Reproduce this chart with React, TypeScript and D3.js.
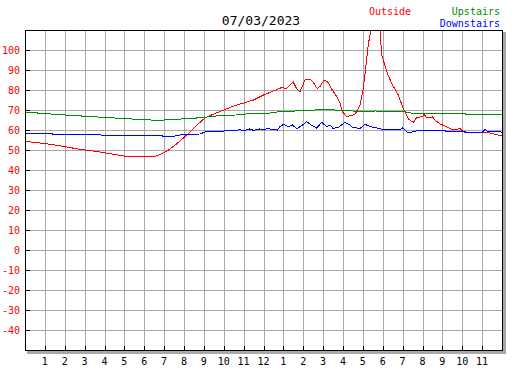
import React from 'react';
import * as d3 from 'd3';

const title = '07/03/2023';
const xTickHours = [1, 2, 3, 4, 5, 6, 7, 8, 9, 10, 11, 12, 13, 14, 15, 16, 17, 18, 19, 20, 21, 22, 23];
const xTickLabels = ['1', '2', '3', '4', '5', '6', '7', '8', '9', '10', '11', '12', '1', '2', '3', '4', '5', '6', '7', '8', '9', '10', '11'];
const yTicks = [100, 90, 80, 70, 60, 50, 40, 30, 20, 10, 0, -10, -20, -30, -40];

const outside: [number, number][] = [
  [0, 54.3], [0.5, 53.8], [1, 53.2], [1.5, 52.5], [2, 51.7], [2.5, 50.8], [3, 50], [3.5, 49.4], [4, 48.6],
  [4.5, 47.8], [5, 47], [5.5, 47], [6, 47], [6.6, 47], [6.8, 47.8], [7.1, 49.2], [7.5, 52], [7.8, 54.5],
  [8.2, 58], [8.6, 62], [9.05, 66], [9.5, 68], [10, 70], [10.5, 72], [11, 73.5], [11.5, 75], [12, 77.5],
  [12.5, 79.5], [12.9, 81.2], [13.17, 80.8], [13.5, 84], [13.67, 80.5], [13.84, 79.2], [14.09, 85],
  [14.34, 85.5], [14.5, 83.8], [14.7, 80.8], [14.84, 81.7], [15.05, 85], [15.26, 83.8], [15.43, 80.5],
  [15.68, 76.7], [15.85, 73.5], [15.97, 69], [16.19, 66.7], [16.6, 67.8], [16.86, 72.5], [17.02, 80.8],
  [17.14, 90.8], [17.27, 102.5], [17.4, 110], [17.6, 122], [17.75, 118], [17.86, 110], [17.95, 97.5],
  [18.2, 89.2], [18.45, 83.3], [18.78, 77.5], [19.03, 70.8], [19.29, 65.5], [19.54, 63.8], [19.7, 66.2],
  [19.99, 66.7], [20.09, 67.8], [20.2, 66.2], [20.5, 66.5], [20.63, 65], [20.88, 63], [21.13, 62],
  [21.55, 60], [21.88, 60.7], [22.1, 59], [23.2, 59], [23.5, 58.3], [24, 57],
];

const upstairs: [number, number][] = [
  [0, 69], [1, 68.2], [2, 67.5], [3, 66.9], [4, 66.3], [5, 65.7], [6, 65.2], [6.7, 64.8], [7.3, 65.2],
  [8.4, 65.8], [9.1, 66.4], [9.6, 67], [10.6, 67.5], [11.1, 68], [12.2, 68.3], [12.8, 69.2], [13.6, 69.5],
  [14.1, 69.8], [15.1, 70.2], [16.1, 69.8], [16.5, 69.5], [17.1, 69.2], [17.6, 69.5], [19.1, 69.2],
  [19.5, 68.3], [22.1, 68.3], [22.2, 67.8], [24, 67.8],
];

const downstairs: [number, number][] = [
  [0, 58.3], [1.35, 58.3], [1.4, 57.8], [3.8, 57.8], [3.85, 57.3], [6.87, 57.3], [6.95, 56.7], [7.5, 56.7],
  [7.6, 57.3], [8.14, 57.8], [8.8, 58], [9.06, 59], [9.9, 59.3], [10.3, 60], [10.5, 59.5], [10.8, 60.2],
  [11.0, 59.7], [11.3, 60.5], [11.5, 59.8], [11.8, 60.5], [12, 60.2], [12.23, 60.7], [12.5, 60.2], [12.7, 60],
  [12.83, 61.7], [13.0, 62.8], [13.25, 61.7], [13.45, 62.5], [13.67, 60.7], [13.9, 62], [14.17, 64.2],
  [14.4, 62.5], [14.67, 61], [14.93, 63.8], [15.18, 61.7], [15.35, 62.5], [15.51, 60.7], [15.8, 61.5],
  [16.1, 63.8], [16.35, 62.5], [16.5, 61.2], [16.86, 60.8], [17.11, 62.8], [17.36, 61.7], [17.78, 60.8],
  [18.03, 60.2], [18.87, 60.2], [19.0, 61], [19.29, 58.5], [19.54, 59.2], [19.87, 60], [21.1, 60],
  [21.2, 59.2], [22.14, 59.2], [22.2, 58.8], [23.0, 58.8], [23.15, 60.3], [23.3, 59.2], [23.9, 59.2], [24, 58.8],
];

const seriesNames = ['Outside', 'Upstairs', 'Downstairs'];
const seriesColors = ['#ff0000', '#008c00', '#0000ff'];

const W = 527;
const H = 370;
const L = 25;
const R = 502;
const T = 30;
const B = 350;
const FONT = "'DejaVu Sans Mono', monospace";

export default function App() {
  const x = d3.scaleLinear().domain([0, 24]).range([L, R]);
  const y = d3.scaleLinear().domain([-50, 110]).range([B, T]);
  const px = (v: number) => Math.round(v) + 0.5;
  const line = d3
    .line<[number, number]>()
    .x((d) => x(d[0]))
    .y((d) => y(d[1]));
  const series = [outside, upstairs, downstairs];

  return (
    <div style={{ position: 'absolute', left: 0, top: 0 }}>
      <svg width={W} height={H} style={{ display: 'block', background: '#fff' }}>
        <defs>
          <clipPath id="plotclip">
            <rect x={L} y={T} width={R - L + 1} height={B - T} />
          </clipPath>
        </defs>
        {/* shadow */}
        <rect x={L + 2} y={T + 2} width={R - L + 2} height={B - T + 2} fill="#a8a8a8" />
        <rect x={L} y={T} width={R - L} height={B - T} fill="#fff" />
        {/* grid */}
        <g shapeRendering="crispEdges" stroke="#a8a8a8" strokeWidth={1}>
          {xTickHours.map((h) => (
            <line key={'gx' + h} x1={px(x(h))} x2={px(x(h))} y1={T} y2={B} />
          ))}
          {yTicks.map((v) => (
            <line key={'gy' + v} x1={L} x2={R} y1={px(y(v))} y2={px(y(v))} />
          ))}
        </g>
        {/* ticks */}
        <g shapeRendering="crispEdges" stroke="#000" strokeWidth={1}>
          {yTicks.map((v) => (
            <line key={'ty' + v} x1={L} x2={L + 5} y1={px(y(v))} y2={px(y(v))} />
          ))}
          {xTickHours.map((h) => (
            <line key={'tx' + h} x1={px(x(h))} x2={px(x(h))} y1={B - 4} y2={B} />
          ))}
        </g>
        {/* data */}
        <g clipPath="url(#plotclip)" fill="none" strokeWidth={1} shapeRendering="crispEdges">
          {series.map((s, i) => (
            <path key={seriesNames[i]} d={line(s) || ''} stroke={seriesColors[i]} />
          ))}
        </g>
        {/* border */}
        <rect
          x={L + 0.5}
          y={T + 0.5}
          width={R - L}
          height={B - T}
          fill="none"
          stroke="#000"
          strokeWidth={1}
          shapeRendering="crispEdges"
        />
        {/* y labels */}
        <g fontFamily={FONT} fontSize={10} fill="#ff0000" textAnchor="end">
          {yTicks.map((v) => (
            <text key={'ly' + v} x={20} y={y(v) + 4}>
              {v}
            </text>
          ))}
        </g>
        {/* x labels */}
        <g fontFamily={FONT} fontSize={10} fill="#000" textAnchor="middle">
          {xTickHours.map((h, i) => (
            <text key={'lx' + h} x={x(h)} y={365}>
              {xTickLabels[i]}
            </text>
          ))}
        </g>
        {/* title */}
        <text x={261} y={25} fontFamily={FONT} fontSize={13} textAnchor="middle" fill="#000">
          {title}
        </text>
        {/* legend */}
        <g fontFamily={FONT} fontSize={10}>
          <text x={369} y={15} fill={seriesColors[0]}>
            {seriesNames[0]}
          </text>
          <text x={500} y={15} fill={seriesColors[1]} textAnchor="end">
            {seriesNames[1]}
          </text>
          <text x={500} y={26.5} fill={seriesColors[2]} textAnchor="end">
            {seriesNames[2]}
          </text>
        </g>
      </svg>
    </div>
  );
}
